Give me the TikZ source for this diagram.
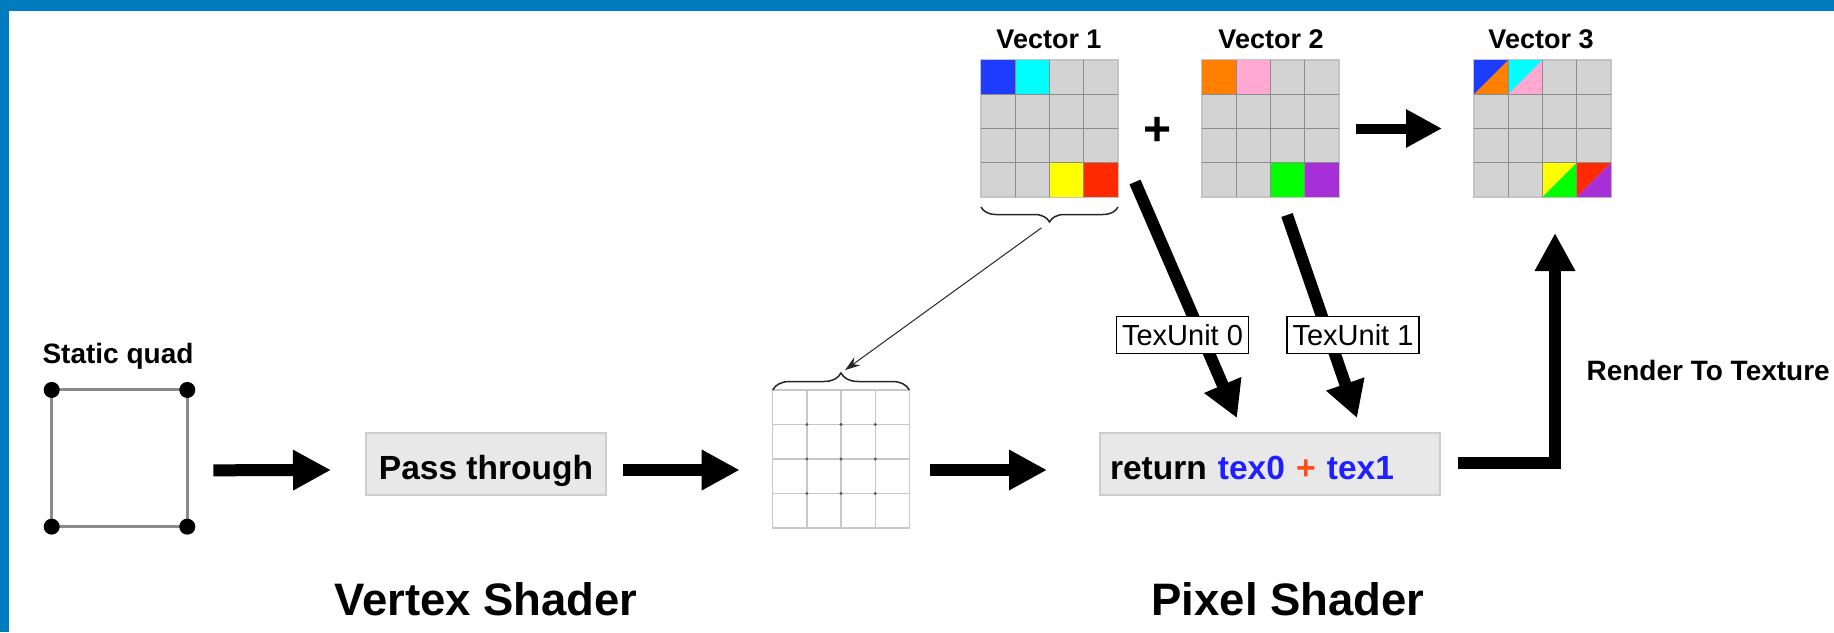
\documentclass[tikz,border=0pt]{standalone}
\usepackage{fontspec}
\setmainfont{Liberation Sans}
\usetikzlibrary{arrows.meta,calc,decorations.pathreplacing}
\definecolor{borderblue}{HTML}{007BBD}
\definecolor{cellgray}{HTML}{D3D3D3}
\definecolor{cellline}{HTML}{C4C4C4}
\definecolor{gridgray}{HTML}{8C8C8C}
\definecolor{vblue}{HTML}{1E3CFF}
\definecolor{vcyan}{HTML}{00FFFF}
\definecolor{vyellow}{HTML}{FFFF00}
\definecolor{vred}{HTML}{FF2A00}
\definecolor{vorange}{HTML}{FF7F00}
\definecolor{vpink}{HTML}{FFA8D2}
\definecolor{vgreen}{HTML}{00FF00}
\definecolor{vpurple}{HTML}{A62FD8}
\definecolor{boxfill}{HTML}{E8E8E8}
\definecolor{boxline}{HTML}{CDCDCD}
\definecolor{texblue}{HTML}{1F1FFF}
\definecolor{texplus}{HTML}{FF4D1A}
\definecolor{quadgray}{HTML}{8A8A8A}
\definecolor{eglinegray}{HTML}{C8C8C8}
\definecolor{dotgray}{HTML}{555555}
\newcommand\cellfill[4]{\fill[#4] ($(#1.north west)+(#2*34.25,#3*34.25)$) rectangle ++(34.25,34.25);}
\newcommand\celltri[5]{%
  \fill[#4] ($(#1.north west)+(#2*34.25,#3*34.25)$) -- ++(34.25,0) -- ++(-34.25,34.25) -- cycle;
  \fill[#5] ($(#1.north west)+(#2*34.25+34.25,#3*34.25)$) -- ++(0,34.25) -- ++(-34.25,0) -- cycle;}
\newcommand\vglines[1]{%
  \foreach \k in {1,2,3} {
    \draw[gline] ($(#1.north west)+(\k*34.25,0)$) -- ++(0,137);
    \draw[gline] ($(#1.north west)+(0,\k*34.25)$) -- ++(137,0);
  }}
\tikzset{
  vgrid/.style={draw=cellline, fill=cellgray, line width=1.2pt, minimum width=137pt, minimum height=137pt, inner sep=0pt, outer sep=0pt},
  gline/.style={draw=gridgray, line width=1.4pt},
  vtitle/.style={font=\bfseries\fontsize{27}{30}\selectfont, anchor=base},
  lbl/.style={font=\bfseries\fontsize{28}{31}\selectfont},
  shbox/.style={draw=boxline, fill=boxfill, line width=1.5pt, minimum height=62pt, inner ysep=0pt, outer sep=0pt, font=\bfseries\fontsize{33.5}{36}\selectfont},
  quadbox/.style={draw=quadgray, line width=3pt, minimum width=135.6pt, minimum height=136.7pt, inner sep=0pt, outer sep=0pt},
  egrid/.style={draw=eglinegray, fill=white, line width=1.3pt, minimum width=136.6pt, minimum height=138pt, inner sep=0pt, outer sep=0pt},
  egline/.style={draw=eglinegray, line width=1.3pt},
  bigarrow/.style={line width=12pt, -{Triangle[length=38pt,width=38pt]}},
  midarrow/.style={line width=10pt, -{Triangle[length=36pt,width=36pt]}},
  diagarrow/.style={line width=12pt, -{Triangle[length=36pt,width=38pt]}},
  thinarrow/.style={line width=1pt, draw=black!85, -{Stealth[length=15pt,width=10pt]}},
  bracestyle/.style={line width=1.5pt, draw=black!85},
  tulabel/.style={draw=black, fill=white, line width=1.5pt, minimum width=132pt, minimum height=37pt, inner sep=1pt, font=\fontsize{29}{32}\selectfont},
  shtitle/.style={font=\bfseries\fontsize{45.5}{50}\selectfont, anchor=base},
  plusstyle/.style={font=\bfseries\fontsize{48}{52}\selectfont, inner sep=0pt}
}
\begin{document}
\begin{tikzpicture}[x=1pt,y=-1pt]
\useasboundingbox (0,0) rectangle (1834,632);
\fill[borderblue] (0,0) rectangle (1834,10.5);
\fill[borderblue] (0,0) rectangle (8.5,632);

% static quad
\node[quadbox] (quad) at (119.5,458.3) {};
\foreach \a in {north west,north east,south west,south east} \fill (quad.\a) circle[radius=8pt];
\node[lbl, anchor=base] (sq) at (118,363) {Static quad};

% pass through
\node[shbox, minimum width=240pt, text height=31pt, text depth=0pt] (pass) at (486,464) {Pass through};

% empty grid
\node[egrid] (eg) at (841,459) {};
\foreach \k in {1,2,3} {
  \draw[egline] ($(eg.north west)+(\k*34.15,0)$) -- ++(0,138);
  \draw[egline] ($(eg.north west)+(0,\k*34.5)$) -- ++(136.6,0);
}
\foreach \k in {1,2,3} {
  \foreach \m in {1,2,3} {
    \fill[dotgray] ($(eg.north west)+(\k*34.15,\m*34.5)$) circle[radius=1.6pt];
  }
}

% return box
\node[shbox, minimum width=340pt, text width=320pt, align=left, inner xsep=10pt, text height=31pt, text depth=0pt] (ret) at (1270,464)
  {return \textcolor{texblue}{tex0} \textcolor{texplus}{+} \textcolor{texblue}{tex1}};

% vectors
\node[vgrid] (v1) at (1049.5,128.5) {};
\node[vgrid] (v2) at (1270.5,128.5) {};
\node[vgrid] (v3) at (1542.5,128.5) {};
\cellfill{v1}{0}{0}{vblue}
\cellfill{v1}{1}{0}{vcyan}
\cellfill{v1}{2}{3}{vyellow}
\cellfill{v1}{3}{3}{vred}
\cellfill{v2}{0}{0}{vorange}
\cellfill{v2}{1}{0}{vpink}
\cellfill{v2}{2}{3}{vgreen}
\cellfill{v2}{3}{3}{vpurple}
\celltri{v3}{0}{0}{vblue}{vorange}
\celltri{v3}{1}{0}{vcyan}{vpink}
\celltri{v3}{2}{3}{vyellow}{vgreen}
\celltri{v3}{3}{3}{vred}{vpurple}
\vglines{v1}
\vglines{v2}
\vglines{v3}
\node[vtitle] (t1) at (1049,48) {Vector 1};
\node[vtitle] (t2) at (1271,48) {Vector 2};
\node[vtitle] (t3) at (1541,48) {Vector 3};
\node[plusstyle] (plus) at (1158,131) {+};

% braces and thin arrow
\draw[bracestyle, decorate, decoration={brace, amplitude=15pt}] ([yshift=-10pt]v1.south east) -- ([yshift=-10pt]v1.south west);
\draw[bracestyle, decorate, decoration={brace, amplitude=17pt}] (eg.north west) -- (eg.north east);
\coordinate (b1) at ([yshift=-25pt]v1.south);
\coordinate (b2) at ([yshift=17pt]eg.north);
\draw[thinarrow, shorten <=10pt, shorten >=5pt] (b1) -- (b2);

% main flow arrows
\draw[bigarrow] ([xshift=26pt,yshift=-12pt]quad.east) -- ([xshift=-35pt,yshift=-6pt]pass.west);
\draw[bigarrow] ([xshift=17pt,yshift=-6pt]pass.east) -- ([xshift=-33pt,yshift=-11pt]eg.west);
\draw[bigarrow] ([xshift=21pt,yshift=-11pt]eg.east) -- ([xshift=-53pt,yshift=-6pt]ret.west);
\draw[midarrow] ([xshift=17pt]v2.east) -- ([xshift=-32pt]v3.west);

% texture unit arrows
\draw[diagarrow] ([xshift=17pt,yshift=15pt]v1.south east) -- ([xshift=137pt,yshift=15pt]ret.north west);
\draw[diagarrow] ([xshift=16.5pt,yshift=-18pt]v2.south) -- ([xshift=257pt,yshift=15pt]ret.north west);
\node[tulabel] (tu0) at (1182.5,335) {TexUnit 0};
\node[tulabel] (tu1) at (1353,335) {TexUnit 1};

% render to texture
\draw[bigarrow] ([xshift=18pt,yshift=1pt]ret.east) -| ([xshift=12.5pt,yshift=-36pt]v3.south);
\node[lbl, anchor=base west] (rtt) at (1583,380) {Render To Texture};

% shader titles
\node[shtitle] (vs) at (486,615) {Vertex Shader};
\node[shtitle] (ps) at (1288,615) {Pixel Shader};
\end{tikzpicture}
\end{document}
